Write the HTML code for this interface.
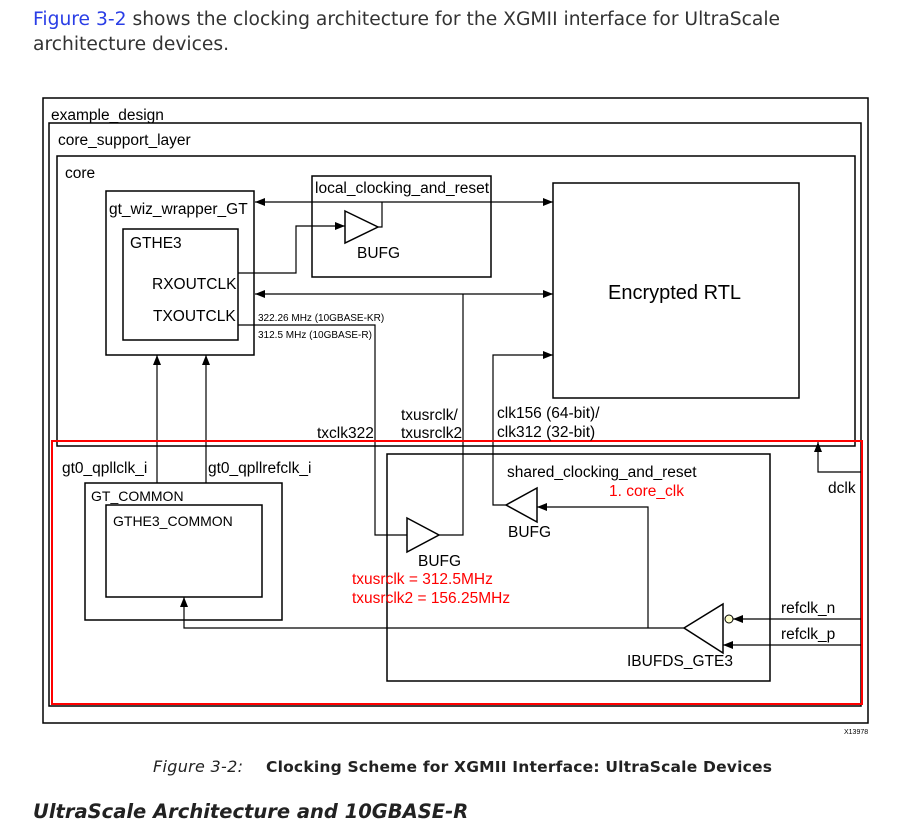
<!DOCTYPE html>
<html><head><meta charset="utf-8"><style>
body{margin:0;background:#fff;width:914px;height:828px;overflow:hidden}
svg{display:block}
.t{font-family:"Liberation Sans",sans-serif;font-size:15.5px;fill:#000}
.s{font-family:"Liberation Sans",sans-serif;font-size:10px;fill:#000}
.r{font-family:"Liberation Sans",sans-serif;font-size:15.5px;fill:#f00}
</style></head><body>
<svg width="914" height="828" viewBox="0 0 914 828" xmlns="http://www.w3.org/2000/svg">
<defs><marker id="a" markerWidth="10" markerHeight="8" refX="10" refY="4" orient="auto" markerUnits="userSpaceOnUse"><path d="M0,0L10,4L0,8z" fill="#000"/></marker></defs>
<text x="33" y="25" style="font-family:'DejaVu Sans',sans-serif;font-size:18.7px" fill="#333"><tspan fill="#2a3ee6">Figure 3-2</tspan> shows the clocking architecture for the XGMII interface for UltraScale</text>
<text x="33" y="50" style="font-family:'DejaVu Sans',sans-serif;font-size:18.7px" fill="#333">architecture devices.</text>

<g fill="none" stroke="#000" stroke-width="1.5">
<rect x="43" y="98" width="825" height="625"/>
<rect x="49" y="123" width="812" height="583"/>
<rect x="57" y="156" width="798" height="290"/>
<rect x="106" y="191" width="148" height="164"/>
<rect x="123" y="229" width="115" height="111"/>
<rect x="312" y="176" width="179" height="101"/>
<rect x="553" y="183" width="246" height="215"/>
<rect x="85" y="483" width="197" height="137"/>
<rect x="106" y="505" width="156" height="92"/>
<rect x="387" y="454" width="383" height="227"/>
<path d="M345,211L378,227L345,243z"/>
<path d="M407,518L439,535L407,552z"/>
<path d="M506,505L537,488L537,522z"/>
<path d="M684,628L723,604L723,653z"/>
</g>
<circle cx="729" cy="619" r="4" fill="#ffffcc" stroke="#000"/>
<g fill="none" stroke="#000" stroke-width="1.2">
<path d="M312,202H255" marker-end="url(#a)"/>
<path d="M312,202H553" marker-end="url(#a)"/>
<path d="M382,202V227H378"/>
<path d="M238,273H296V226H345" marker-end="url(#a)"/>
<path d="M463,294H255" marker-end="url(#a)"/>
<path d="M463,294H553" marker-end="url(#a)"/>
<path d="M238,325H375V535H407"/>
<path d="M439,535H463V294"/>
<path d="M506,505H493V355H553" marker-end="url(#a)"/>
<path d="M648,628V507H537" marker-end="url(#a)"/>
<path d="M684,628H184V597" marker-end="url(#a)"/>
<path d="M157,483V355" marker-end="url(#a)"/>
<path d="M206,483V355" marker-end="url(#a)"/>
<path d="M861,619H733" marker-end="url(#a)"/>
<path d="M861,645H723" marker-end="url(#a)"/>
<path d="M861,472H818V442" marker-end="url(#a)"/>
</g>
<rect x="52" y="441" width="810" height="263" fill="none" stroke="#f00" stroke-width="2"/>

<text class="t" x="51" y="120">example_design</text>
<text class="t" x="58" y="145">core_support_layer</text>
<text class="t" x="65" y="178">core</text>
<text class="t" x="109" y="214">gt_wiz_wrapper_GT</text>
<text class="t" x="130" y="248">GTHE3</text>
<text class="t" x="152" y="289">RXOUTCLK</text>
<text class="t" x="153" y="321">TXOUTCLK</text>
<text class="t" x="315" y="193">local_clocking_and_reset</text>
<text class="t" x="357" y="258">BUFG</text>
<text class="t" x="608" y="299" style="font-size:20px">Encrypted RTL</text>
<text class="s" x="258" y="321">322.26 MHz (10GBASE-KR)</text>
<text class="s" x="258" y="338">312.5 MHz (10GBASE-R)</text>
<text class="t" x="317" y="438">txclk322</text>
<text class="t" x="401" y="420">txusrclk/</text>
<text class="t" x="401" y="438">txusrclk2</text>
<text class="t" x="497" y="418">clk156 (64-bit)/</text>
<text class="t" x="497" y="437">clk312 (32-bit)</text>
<text class="t" x="62" y="473">gt0_qpllclk_i</text>
<text class="t" x="208" y="473">gt0_qpllrefclk_i</text>
<text class="t" x="91" y="501" style="font-size:14px">GT_COMMON</text>
<text class="t" x="113" y="526" style="font-size:14px">GTHE3_COMMON</text>
<text class="t" x="507" y="477">shared_clocking_and_reset</text>
<text class="r" x="609" y="496">1. core_clk</text>
<text class="t" x="508" y="537">BUFG</text>
<text class="t" x="418" y="566">BUFG</text>
<text class="r" x="352" y="584">txusrclk = 312.5MHz</text>
<text class="r" x="352" y="603">txusrclk2 = 156.25MHz</text>
<text class="t" x="828" y="493">dclk</text>
<text class="t" x="781" y="613">refclk_n</text>
<text class="t" x="781" y="639">refclk_p</text>
<text class="t" x="627" y="666">IBUFDS_GTE3</text>
<text x="844" y="734" style="font-family:'Liberation Sans',sans-serif;font-size:7px">X13978</text>
<text x="153" y="772" style="font-family:'DejaVu Sans',sans-serif;font-size:16px;font-style:italic;letter-spacing:0.3px" fill="#222">Figure 3-2:</text>
<text x="266" y="772" style="font-family:'DejaVu Sans',sans-serif;font-size:15.5px;font-weight:bold;letter-spacing:0.2px" fill="#222">Clocking Scheme for XGMII Interface: UltraScale Devices</text>
<text x="33" y="818" style="font-family:'DejaVu Sans',sans-serif;font-size:19.5px;font-weight:bold;font-style:italic" fill="#222">UltraScale Architecture and 10GBASE-R</text>
</svg>
</body></html>
